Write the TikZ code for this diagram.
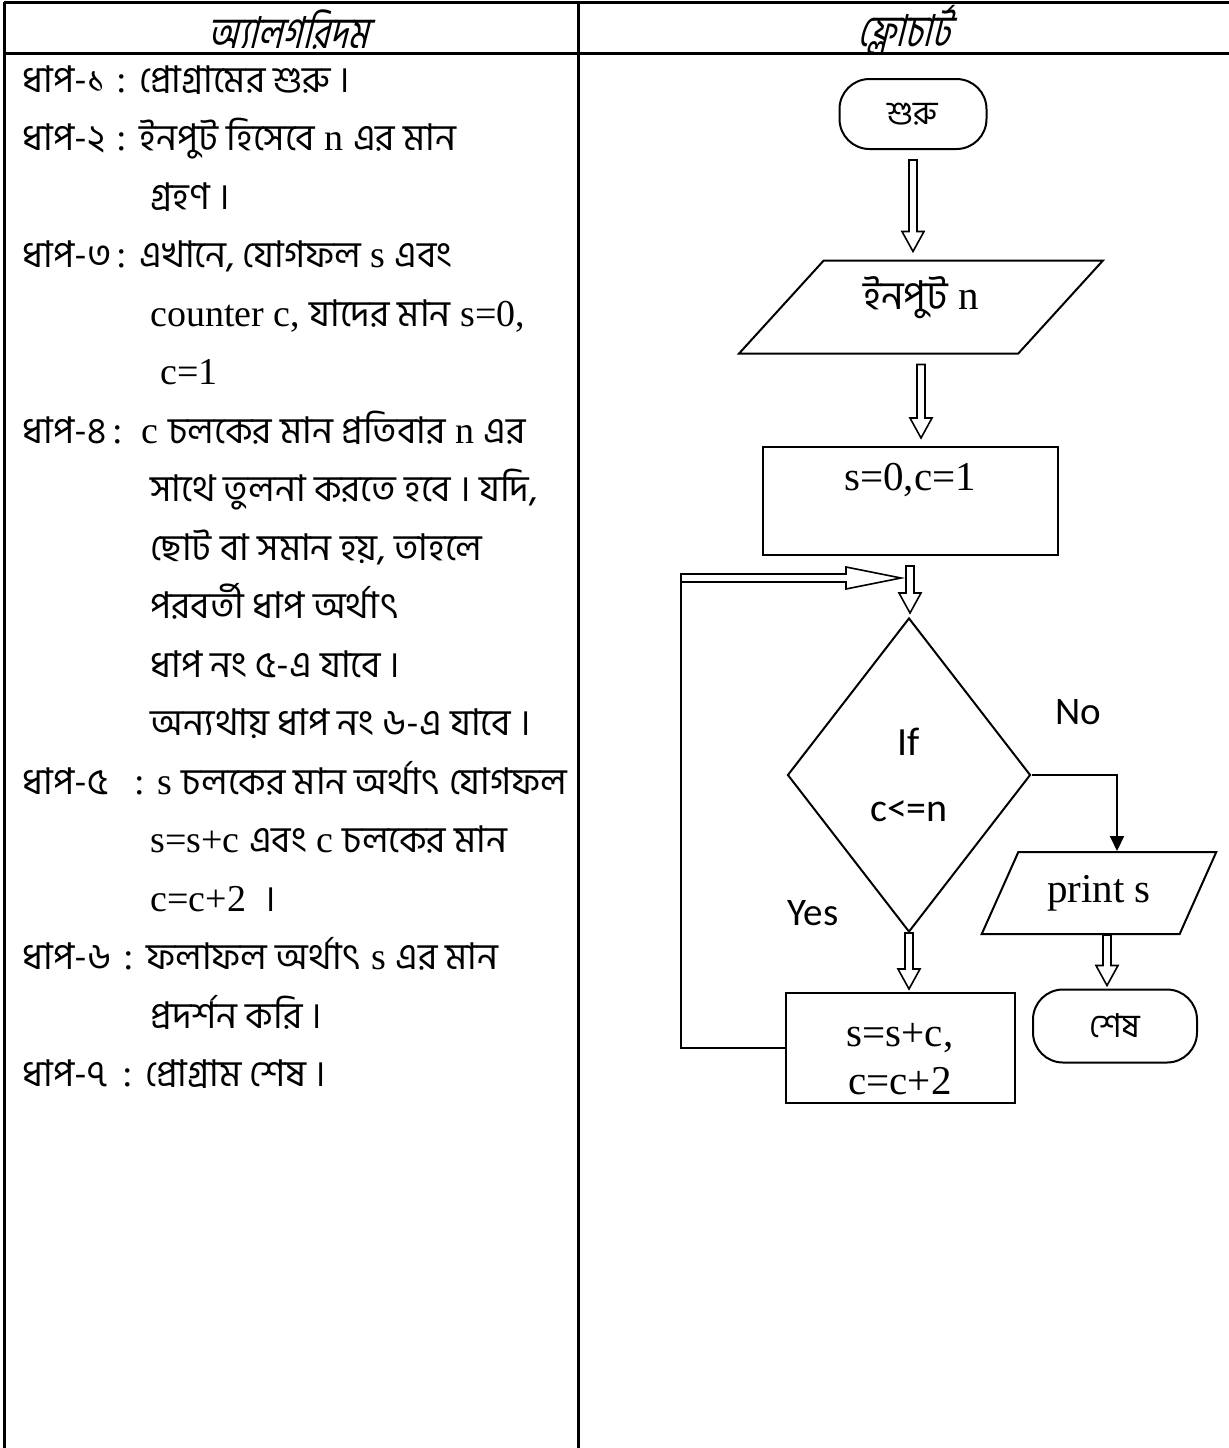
\documentclass[tikz,border=0pt]{standalone}
\usepackage{fontspec}
\setmainfont{Liberation Serif}
\newfontfamily\bn[Script=Bengali,Scale=0.97]{Hind Siliguri}
\newfontfamily\bnslant[Script=Bengali,FakeSlant=0.25,FakeStretch=0.78]{Hind Siliguri}
\newfontfamily\calib{Carlito}
\usetikzlibrary{shapes.geometric,arrows.meta,calc}

\tikzset{
  algtext/.style={anchor=base west,inner sep=0pt,font=\fontsize{19}{22}\selectfont},
  headtext/.style={inner sep=0pt,font=\fontsize{22}{26}\selectfont\bnslant},
  flow/.style={draw,line width=1pt,inner sep=2pt,font=\fontsize{20.5}{24}\selectfont},
  term/.style={flow,rounded corners=15pt,font=\fontsize{17}{20}\selectfont\bn},
  proc/.style={flow,rectangle},
  io/.style={flow,trapezium,trapezium stretches=true},
  decide/.style={flow,diamond,inner sep=0pt,align=center,font=\fontsize{20}{33}\selectfont\calib},
  yesno/.style={inner sep=0pt,font=\fontsize{19.5}{22}\selectfont\calib},
  hollowline/.style={draw,fill=white,line width=0.8pt},
}

% hollow block arrow going down: from #1 to #2, gaps #3 and #4
\newcommand{\hollowdown}[4]{%
  \draw[hollowline] ($(#1)+(-4,#3)$) -- ($(#1 |- #2)+(-4,-#4-20)$) -- ($(#1 |- #2)+(-11,-#4-20)$)
    -- ($(#1 |- #2)+(0,-#4)$) -- ($(#1 |- #2)+(11,-#4-20)$) -- ($(#1 |- #2)+(4,-#4-20)$)
    -- ($(#1)+(4,#3)$) -- cycle;}

\begin{document}
\begin{tikzpicture}[x=0.5pt,y=0.5pt,yscale=-1]
  \useasboundingbox (0,0) rectangle (1229,1448);
  % table
  \draw[line width=1.5pt] (4,2) -- (1229,2) (4,53) -- (1229,53) (4,2) -- (4,1448) (578,2) -- (578,1448);
  \node[headtext] (halg) at (288,30) {অ্যালগরিদম};
  \node[headtext] (hflow) at (904,30) {ফ্লোচার্ট};

  % algorithm
  \node[algtext] (d1) at (22,92) {\bn ধাপ-১};
  \node[algtext] (a1) at (116,92) {: {\bn প্রোগ্রামের শুরু ।}};
  \node[algtext] (d2) at (22,150.5) {\bn ধাপ-২};
  \node[algtext] (a2) at (116,150.5) {: {\bn ইনপুট হিসেবে} n {\bn এর মান}};
  \node[algtext] (a2b) at (150,209) {\bn গ্রহণ ।};
  \node[algtext] (d3) at (22,267.5) {\bn ধাপ-৩};
  \node[algtext] (a3) at (116,267.5) {: {\bn এখানে, যোগফল} s {\bn এবং}};
  \node[algtext] (a3b) at (150,326) {counter c, {\bn যাদের মান} s=0,};
  \node[algtext] (a3c) at (160,384.5) {c=1};
  \node[algtext] (d4) at (22,443) {\bn ধাপ-৪};
  \node[algtext] (a4) at (112,443) {:\ \ c {\bn চলকের মান প্রতিবার} n {\bn এর}};
  \node[algtext] (a4b) at (150,501.5) {\bn সাথে তুলনা করতে হবে । যদি,};
  \node[algtext] (a4c) at (150,560) {\bn ছোট বা সমান হয়, তাহলে};
  \node[algtext] (a4d) at (150,618.5) {\bn পরবর্তী ধাপ অর্থাৎ};
  \node[algtext] (a4e) at (150,677) {\bn ধাপ নং ৫-এ যাবে ।};
  \node[algtext] (a4f) at (150,735.5) {\bn অন্যথায় ধাপ নং ৬-এ যাবে ।};
  \node[algtext] (d5) at (22,794) {\bn ধাপ-৫};
  \node[algtext] (a5) at (134,794) {: s {\bn চলকের মান অর্থাৎ যোগফল}};
  \node[algtext] (a5b) at (150,852.5) {s=s+c {\bn এবং} c {\bn চলকের মান}};
  \node[algtext] (a5c) at (150,911) {c=c+2\ \ {\bn ।}};
  \node[algtext] (d6) at (22,969.5) {\bn ধাপ-৬};
  \node[algtext] (a6) at (123,969.5) {: {\bn ফলাফল অর্থাৎ} s {\bn এর মান}};
  \node[algtext] (a6b) at (150,1028) {\bn প্রদর্শন করি ।};
  \node[algtext] (d7) at (22,1086.5) {\bn ধাপ-৭};
  \node[algtext] (a7) at (122,1086.5) {: {\bn প্রোগ্রাম শেষ ।}};

  % flowchart
  \node[term,minimum width=73.5pt,minimum height=35pt] (start) at (913,114) {শুরু};
  \node[io,trapezium left angle=52,trapezium right angle=128,minimum width=182pt,minimum height=46.5pt,text depth=14pt] (inp) at (921,307) {{\bn ইনপুট} n};
  \node[proc,minimum width=147.5pt,minimum height=54pt,text depth=24pt] (init) at (910,501) {s=0,c=1};
  \node[decide,minimum width=121.5pt,minimum height=157pt] (dec) at (909,775) {If\\c<=n};
  \node[io,trapezium left angle=60,trapezium right angle=120,minimum width=117.5pt,minimum height=41pt] (prt) at (1099,893) {print s};
  \node[proc,minimum width=114.5pt,minimum height=55pt,align=center,text height=47pt] (upd) at (900,1048) {s=s+c,\\c=c+2};
  \node[term,minimum width=82pt,minimum height=36.5pt] (stop) at (1115,1026) {শেষ};
  \node[yesno] (no) at (1078,712) {No};
  \node[yesno] (yes) at (813,913) {Yes};
  \coordinate (prtout) at ([xshift=4pt]prt.south);
  \coordinate (loopa) at (681,578);
  \coordinate (loopt) at (901,578);

  \hollowdown{start.south}{inp.north}{10}{8}
  \hollowdown{inp.south}{init.north}{10}{8}
  \hollowdown{init.south}{dec.north}{10}{4}
  \hollowdown{dec.south}{upd.north}{0}{3}
  \hollowdown{prtout}{stop.north}{0}{3}

  \draw[line width=1pt,-{Triangle[length=7.5pt,width=7pt]}] (dec.east) -| ([xshift=9pt]prt.north);
  \draw[line width=1pt] (upd.west) -| (loopa);
  \draw[hollowline] ($(loopa)+(0,-4)$) -- ($(loopt)+(-55,-4)$) -- ($(loopt)+(-55,-11)$) -- (loopt)
    -- ($(loopt)+(-55,11)$) -- ($(loopt)+(-55,4)$) -- ($(loopa)+(0,4)$) -- cycle;
\end{tikzpicture}
\end{document}
